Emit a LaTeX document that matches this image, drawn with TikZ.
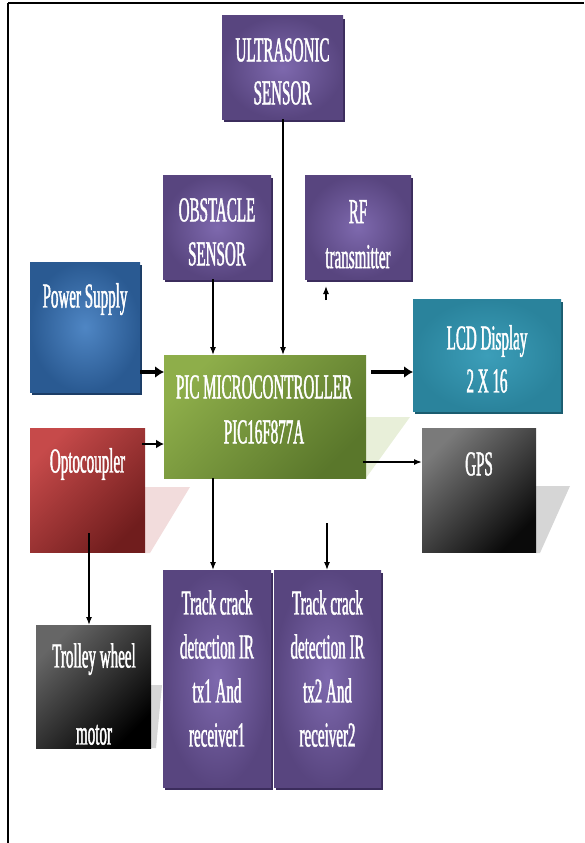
\documentclass[tikz,border=0pt]{standalone}
\usepackage{fontspec}
\newfontfamily\cf[FakeStretch=0.43,FakeBold=1.2]{Liberation Serif}
\usetikzlibrary{arrows.meta,shadows}
\definecolor{purOut}{HTML}{58457F}
\definecolor{purIn}{HTML}{7E69AE}
\definecolor{purSh}{HTML}{3B2C5C}
\definecolor{bluOut}{HTML}{2A5A92}
\definecolor{bluIn}{HTML}{4F86C4}
\definecolor{bluSh}{HTML}{1C3D66}
\definecolor{teaOut}{HTML}{2A839C}
\definecolor{teaIn}{HTML}{3C9EB9}
\definecolor{teaSh}{HTML}{1B5C6F}
\definecolor{grnA}{HTML}{8EAE4A}
\definecolor{grnB}{HTML}{5A772B}
\definecolor{redA}{HTML}{C64A4A}
\definecolor{redB}{HTML}{701D1D}
\definecolor{gpsA}{HTML}{7A7A7A}
\definecolor{gpsB}{HTML}{0A0A0A}
\definecolor{trlA}{HTML}{666666}
\definecolor{trlB}{HTML}{000000}
\definecolor{picSh}{HTML}{E8EFD9}
\definecolor{optSh}{HTML}{F2DCDC}
\definecolor{grySh}{HTML}{D6D6D6}
\begin{document}
\begin{tikzpicture}[x=1pt,y=-1pt,
  blk/.style={inner sep=0pt, outer sep=0pt},
  pur/.style={blk, inner color=purIn, outer color=purOut,
    drop shadow={fill=purSh, opacity=1, shadow xshift=1.5pt, shadow yshift=-3pt}},
  blu/.style={blk, inner color=bluIn, outer color=bluOut,
    drop shadow={fill=bluSh, opacity=1, shadow xshift=2pt, shadow yshift=-3pt}},
  tea/.style={blk, inner color=teaIn, outer color=teaOut,
    drop shadow={fill=teaSh, opacity=1, shadow xshift=2pt, shadow yshift=-3pt}},
  diag/.style 2 args={blk, top color=#1, bottom color=#2, shading angle=45},
  lbl/.style={text=white, font=\cf\fontsize{35}{#1}\selectfont, align=center, anchor=north, inner sep=0pt},
  lbl/.default=44,
  arr/.style={line width=1.2pt, -{Latex[length=8pt,width=6pt]}},
  marr/.style={line width=1.8pt, -{Latex[length=8pt,width=9pt]}},
  tarr/.style={line width=4pt, -{Latex[length=9pt,width=12pt]}}
]
\useasboundingbox (0,0) rectangle (584,843);
% frame
\draw[line width=2.5pt] (8,3) -- (584,3);
\draw[line width=2pt] (8,3) -- (8,843);
% light perspective shadows
\fill[picSh] (366,417) -- (410,417) -- (366,478) -- cycle;
\fill[optSh] (145,487) -- (190,487) -- (150,553) -- (145,553) -- cycle;
\fill[grySh] (536,486) -- (570,486) -- (540,553) -- (536,553) -- cycle;
\fill[grySh] (151,685) -- (162,685) -- (156,748) -- (151,748) -- cycle;
% boxes
\node[pur, minimum width=121pt, minimum height=103pt] (us) at (282.5,67.5) {};
\node[pur, minimum width=108pt, minimum height=104pt] (obs) at (217,227) {};
\node[pur, minimum width=106pt, minimum height=104pt] (rf) at (358,227) {};
\node[blu, minimum width=110pt, minimum height=130pt] (ps) at (85,327) {};
\node[diag={grnA}{grnB}, minimum width=202pt, minimum height=123pt] (pic) at (265,416.5) {};
\node[tea, minimum width=148pt, minimum height=112pt] (lcd) at (487,355) {};
\node[diag={redA}{redB}, minimum width=115pt, minimum height=124pt] (opto) at (87.5,490) {};
\node[diag={gpsA}{gpsB}, minimum width=114pt, minimum height=124pt] (gps) at (479,490) {};
\node[diag={trlA}{trlB}, minimum width=115pt, minimum height=123pt] (trol) at (93.5,686.5) {};
\node[pur, minimum width=108pt, minimum height=217pt] (tc1) at (217,678.5) {};
\node[pur, minimum width=107pt, minimum height=217pt] (tc2) at (327.5,678.5) {};
% labels
\node[lbl=43] (usT) at (282.5,38) {ULTRASONIC\\SENSOR};
\node[lbl=44] (obsT) at (217,198) {OBSTACLE\\SENSOR};
\node[lbl=45] (rfT) at (358,200) {RF\\transmitter};
\node[lbl] (psT) at (85,283) {Power Supply};
\node[lbl=43] (lcdT) at (487,325) {LCD Display\\2 X 16};
\node[lbl=45] (picT) at (264,375) {PIC MICROCONTROLLER\\PIC16F877A};
\node[lbl] (optoT) at (87.5,448) {Optocoupler};
\node[lbl] (gpsT) at (479,452) {GPS};
\node[lbl=44] (trolT) at (94,643) {Trolley wheel\\[33pt]motor};
\node[lbl=44] (tc1T) at (217,590) {Track crack\\detection IR\\tx1 And\\receiver1};
\node[lbl=44] (tc2T) at (327.5,590) {Track crack\\detection IR\\tx2 And\\receiver2};
% connector helper coordinates
\coordinate (psy) at (0,372);
\coordinate (opy) at (0,444);
\coordinate (gpy) at (0,462);
\coordinate (usx) at (283,0);
\coordinate (obx) at (213,0);
\coordinate (rfa) at (326,300);
\coordinate (c2) at (327,523);
\coordinate (ot) at (89,533);
% connectors
\draw[arr] (usx |- us.south) -- (usx |- pic.north);
\draw[arr] (obx |- obs.south) -- (obx |- pic.north);
\draw[arr, shorten >=7pt] (rfa) -- (rfa |- rf.south);
\draw[tarr] (ps.east |- psy) -- (pic.west |- psy);
\draw[tarr, shorten <=5pt] (pic.east |- psy) -- (lcd.west |- psy);
\draw[marr, shorten <=-3pt] (opto.east |- opy) -- (pic.west |- opy);
\draw[arr, line width=1.5pt, shorten <=-3pt] (pic.east |- gpy) -- (gps.west |- gpy);
\draw[arr] (obx |- pic.south) -- (obx |- tc1.north);
\draw[arr] (c2) -- (c2 |- tc2.north);
\draw[arr] (ot) -- (ot |- trol.north);
\end{tikzpicture}
\end{document}
